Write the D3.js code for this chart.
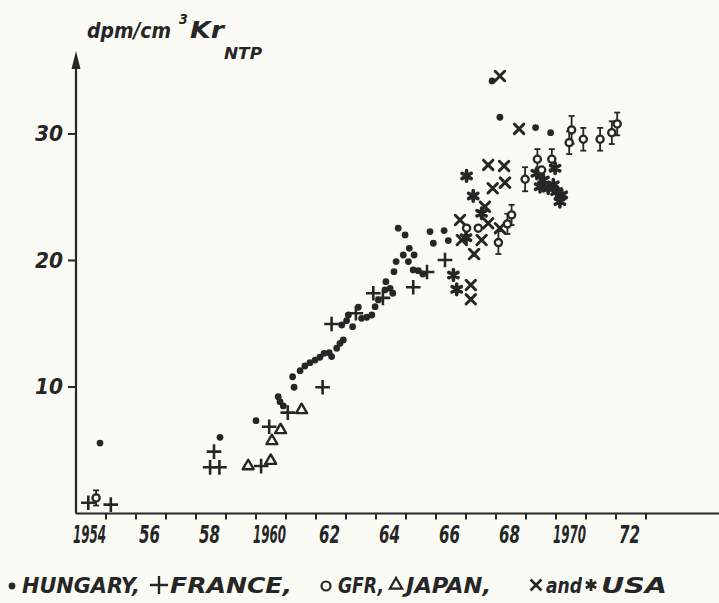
<!DOCTYPE html>
<html><head><meta charset="utf-8">
<script src="https://cdn.jsdelivr.net/npm/d3@7"></script>
<style>
html,body{margin:0;padding:0;background:#fbfbf6;}
svg{display:block;}
text{font-family:"DejaVu Sans Condensed","DejaVu Sans",sans-serif;font-weight:bold;font-style:italic;fill:#262626;}
</style></head>
<body>
<svg id="c" width="719" height="603"></svg>
<script>
// ---- data (year, dpm/cm3 Kr NTP) ----
const hungary = [
 [1954.80,5.57],[1958.80,6.02],[1960.00,7.34],[1960.74,9.23],[1960.80,8.84],[1960.91,8.50],
 [1961.27,9.98],[1961.22,10.81],[1961.47,11.29],[1961.63,11.66],[1961.80,11.92],[1961.97,12.13],
 [1962.13,12.35],[1962.27,12.66],[1962.44,12.71],[1962.52,12.40],[1962.69,13.06],[1962.80,13.45],
 [1962.91,13.72],[1962.86,14.90],[1963.02,15.24],[1963.08,15.69],[1963.22,14.77],[1963.41,16.30],
 [1963.52,15.43],[1963.69,15.51],[1963.86,15.69],[1963.97,16.35],[1964.08,16.88],[1964.30,17.67],
 [1964.56,17.41],[1964.47,17.80],[1964.33,18.32],[1964.60,19.11],[1964.67,19.91],[1964.91,20.43],
 [1965.08,19.91],[1965.27,20.43],[1965.11,20.96],[1964.97,22.02],[1964.74,22.55],[1965.24,19.25],
 [1965.41,19.19],[1965.56,18.93],[1965.80,22.28],[1966.27,22.36],[1965.91,21.36],[1966.41,21.57],
 [1967.87,34.19],[1968.13,31.32],[1969.32,30.50],[1969.82,30.10]
];
const france = [
 [1954.41,0.85],[1955.16,0.70],[1958.60,4.89],[1958.47,3.65],[1958.78,3.65],[1960.17,3.75],
 [1960.44,6.86],[1961.06,7.97],[1962.22,9.98],[1962.52,14.98],[1963.33,15.83],[1963.91,17.41],
 [1964.23,17.04],[1965.24,17.88],[1965.70,19.09],[1966.30,20.04]
];
const gfr = [ // year, value, error
 [1954.67,1.23,0.6],[1967.02,22.55,0],[1967.41,22.55,0],[1968.08,21.41,0.9],[1968.38,22.89,0.8],
 [1968.52,23.60,0.8],[1968.97,26.42,0.95],[1969.38,28.00,0.8],[1969.86,28.00,0.8],[1969.52,27.15,0],
 [1970.52,30.32,1.1],[1970.44,29.31,0.9],[1970.91,29.58,0.9],[1971.47,29.58,0.9],[1971.86,30.10,0.9],
 [1972.04,30.79,0.9]
];
const japan = [
 [1959.74,3.75],[1960.49,4.17],[1960.53,5.73],[1960.82,6.60],[1961.52,8.18]
];
const usaCross = [
 [1966.80,23.20],[1967.16,18.06],[1967.16,16.93],[1967.27,20.51],[1966.86,21.62],[1967.52,21.62],
 [1967.63,24.25],[1967.74,22.94],[1968.13,22.55],[1968.77,30.40],[1967.74,27.55],[1968.27,27.47],
 [1968.30,26.15],[1967.89,25.71],[1968.13,34.58]
];
const usaStar = [
 [1967.02,26.68],[1967.24,25.10],[1966.58,18.85],[1966.69,17.72],[1969.36,26.89],[1969.58,26.36],
 [1969.47,25.83],[1969.91,25.97],[1970.02,25.44],[1970.19,25.18],[1970.13,24.65],[1969.74,25.71],
 [1969.97,27.29],[1967.52,23.73],[1967.00,21.80]
];
const yearTicks = d3.range(1955, 1974);
const yearLabels = [[1954,"1954"],[1956,"56"],[1958,"58"],[1960,"1960"],[1962,"62"],[1964,"64"],[1966,"66"],[1968,"68"],[1970,"1970"],[1972,"72"]];
const valueTicks = [10, 20, 30];

// ---- drawing ----
const ink = "#262626";
const svg = d3.select("#c");
const x = d3.scaleLinear().domain([1954, 1975.4]).range([76, 718]);
const y = d3.scaleLinear().domain([0, 36.2]).range([513.5, 55.5]);

// axes
const x0 = x(1954), y0 = y(0);
svg.append("line").attr("x1", x0).attr("x2", 719).attr("y1", y0).attr("y2", y0)
  .attr("stroke", ink).attr("stroke-width", 2.2);
svg.append("line").attr("x1", x0).attr("x2", x0).attr("y1", y0).attr("y2", 66)
  .attr("stroke", ink).attr("stroke-width", 2.2);
svg.append("path").attr("d", `M${x0},51 L${x0-4.5},69 L${x0+4.5},69 Z`).attr("fill", ink);

svg.selectAll(".xt").data(yearTicks).enter().append("line")
  .attr("x1", d => x(d)).attr("x2", d => x(d)).attr("y1", y0).attr("y2", y0 + 6)
  .attr("stroke", ink).attr("stroke-width", 2);
svg.selectAll(".xl").data(yearLabels).enter().append("text")
  .attr("x", d => x(d[0] + 0.45)).attr("y", 543).attr("text-anchor", "middle")
  .attr("font-size", 25)
  .attr("textLength", d => d[1].length === 4 ? 33 : 21).attr("lengthAdjust", "spacingAndGlyphs")
  .text(d => d[1]);

svg.selectAll(".yt").data(valueTicks).enter().append("line")
  .attr("x1", x0 - 8).attr("x2", x0).attr("y1", d => y(d)).attr("y2", d => y(d))
  .attr("stroke", ink).attr("stroke-width", 2);
svg.selectAll(".yl").data(valueTicks).enter().append("text")
  .attr("x", 63).attr("y", d => y(d) + 7.5).attr("text-anchor", "end")
  .attr("font-size", 21).attr("textLength", 28).attr("lengthAdjust", "spacingAndGlyphs")
  .text(d => d);

// title
svg.append("text").attr("x", 87).attr("y", 38).attr("font-size", 22)
  .attr("textLength", 84).attr("lengthAdjust", "spacingAndGlyphs").text("dpm/cm");
svg.append("text").attr("x", 179).attr("y", 24).attr("font-size", 14).text("3");
svg.append("text").attr("x", 190).attr("y", 38).attr("font-size", 23)
  .attr("textLength", 34).attr("lengthAdjust", "spacingAndGlyphs").text("Kr");
svg.append("text").attr("x", 224).attr("y", 59).attr("font-size", 16)
  .attr("textLength", 38).attr("lengthAdjust", "spacingAndGlyphs").text("NTP");

// marks
const g = svg.append("g");
// GFR error bars
const eb = g.selectAll(".eb").data(gfr.filter(d => d[2] > 0)).enter().append("g");
eb.append("line").attr("x1", d => x(d[0])).attr("x2", d => x(d[0]))
  .attr("y1", d => y(d[1] + d[2])).attr("y2", d => y(d[1] - d[2]))
  .attr("stroke", ink).attr("stroke-width", 1.8);
eb.append("line").attr("x1", d => x(d[0]) - 3).attr("x2", d => x(d[0]) + 3)
  .attr("y1", d => y(d[1] + d[2])).attr("y2", d => y(d[1] + d[2]))
  .attr("stroke", ink).attr("stroke-width", 1.8);
eb.append("line").attr("x1", d => x(d[0]) - 3).attr("x2", d => x(d[0]) + 3)
  .attr("y1", d => y(d[1] - d[2])).attr("y2", d => y(d[1] - d[2]))
  .attr("stroke", ink).attr("stroke-width", 1.8);

// USA asterisks
g.selectAll(".us").data(usaStar).enter().append("path")
  .attr("transform", d => `translate(${x(d[0])},${y(d[1])})`)
  .attr("d", d3.symbol(d3.symbolAsterisk, 80))
  .attr("fill", "none").attr("stroke", ink).attr("stroke-width", 3.6).attr("stroke-linecap", "round");
// USA crosses
g.selectAll(".ux").data(usaCross).enter().append("path")
  .attr("transform", d => `translate(${x(d[0])},${y(d[1])})`)
  .attr("d", d3.symbol(d3.symbolTimes, 60))
  .attr("fill", "none").attr("stroke", ink).attr("stroke-width", 3).attr("stroke-linecap", "round");
// France plus
g.selectAll(".fr").data(france).enter().append("path")
  .attr("transform", d => `translate(${x(d[0])},${y(d[1])})`)
  .attr("d", d3.symbol(d3.symbolPlus, 72))
  .attr("fill", "none").attr("stroke", ink).attr("stroke-width", 2.6);
// Japan triangles
g.selectAll(".jp").data(japan).enter().append("path")
  .attr("transform", d => `translate(${x(d[0])},${y(d[1])})`)
  .attr("d", d3.symbol(d3.symbolTriangle2, 85))
  .attr("fill", "none").attr("stroke", ink).attr("stroke-width", 2.4).attr("stroke-linejoin", "round");
// Hungary dots
g.selectAll(".hu").data(hungary).enter().append("circle")
  .attr("cx", d => x(d[0])).attr("cy", d => y(d[1])).attr("r", 3.4).attr("fill", ink);
// GFR circles
g.selectAll(".gf").data(gfr).enter().append("circle")
  .attr("cx", d => x(d[0])).attr("cy", d => y(d[1])).attr("r", 3.6)
  .attr("fill", "#fbfbf6").attr("stroke", ink).attr("stroke-width", 2.3);

// legend
const L = svg.append("g");
const ly = 593;
L.append("circle").attr("cx", 12).attr("cy", ly - 7).attr("r", 3.4).attr("fill", ink);
L.append("path").attr("transform", `translate(159,${ly-8})`).attr("d", d3.symbol(d3.symbolPlus, 110))
  .attr("fill", "none").attr("stroke", ink).attr("stroke-width", 2.4);
L.append("circle").attr("cx", 326).attr("cy", ly - 7).attr("r", 4.5).attr("fill", "none").attr("stroke", ink).attr("stroke-width", 2.2);
L.append("path").attr("transform", `translate(396,${ly-8})`).attr("d", d3.symbol(d3.symbolTriangle2, 110))
  .attr("fill", "none").attr("stroke", ink).attr("stroke-width", 2.2);
L.append("path").attr("transform", `translate(536,${ly-8})`).attr("d", d3.symbol(d3.symbolTimes, 80))
  .attr("fill", "none").attr("stroke", ink).attr("stroke-width", 2.6);
L.append("path").attr("transform", `translate(591,${ly-8})`).attr("d", d3.symbol(d3.symbolAsterisk, 100))
  .attr("fill", "none").attr("stroke", ink).attr("stroke-width", 2.8);
const legendTexts = [[22, 118, "HUNGARY,"], [170, 122, "FRANCE,"], [338, 46, "GFR,"], [406, 85, "JAPAN,"], [546, 36, "and"], [601, 66, "USA"]];
L.selectAll("text").data(legendTexts).enter().append("text")
  .attr("x", d => d[0]).attr("y", ly).attr("font-size", 22)
  .attr("textLength", d => d[1]).attr("lengthAdjust", "spacingAndGlyphs").text(d => d[2]);
</script>
</body></html>
